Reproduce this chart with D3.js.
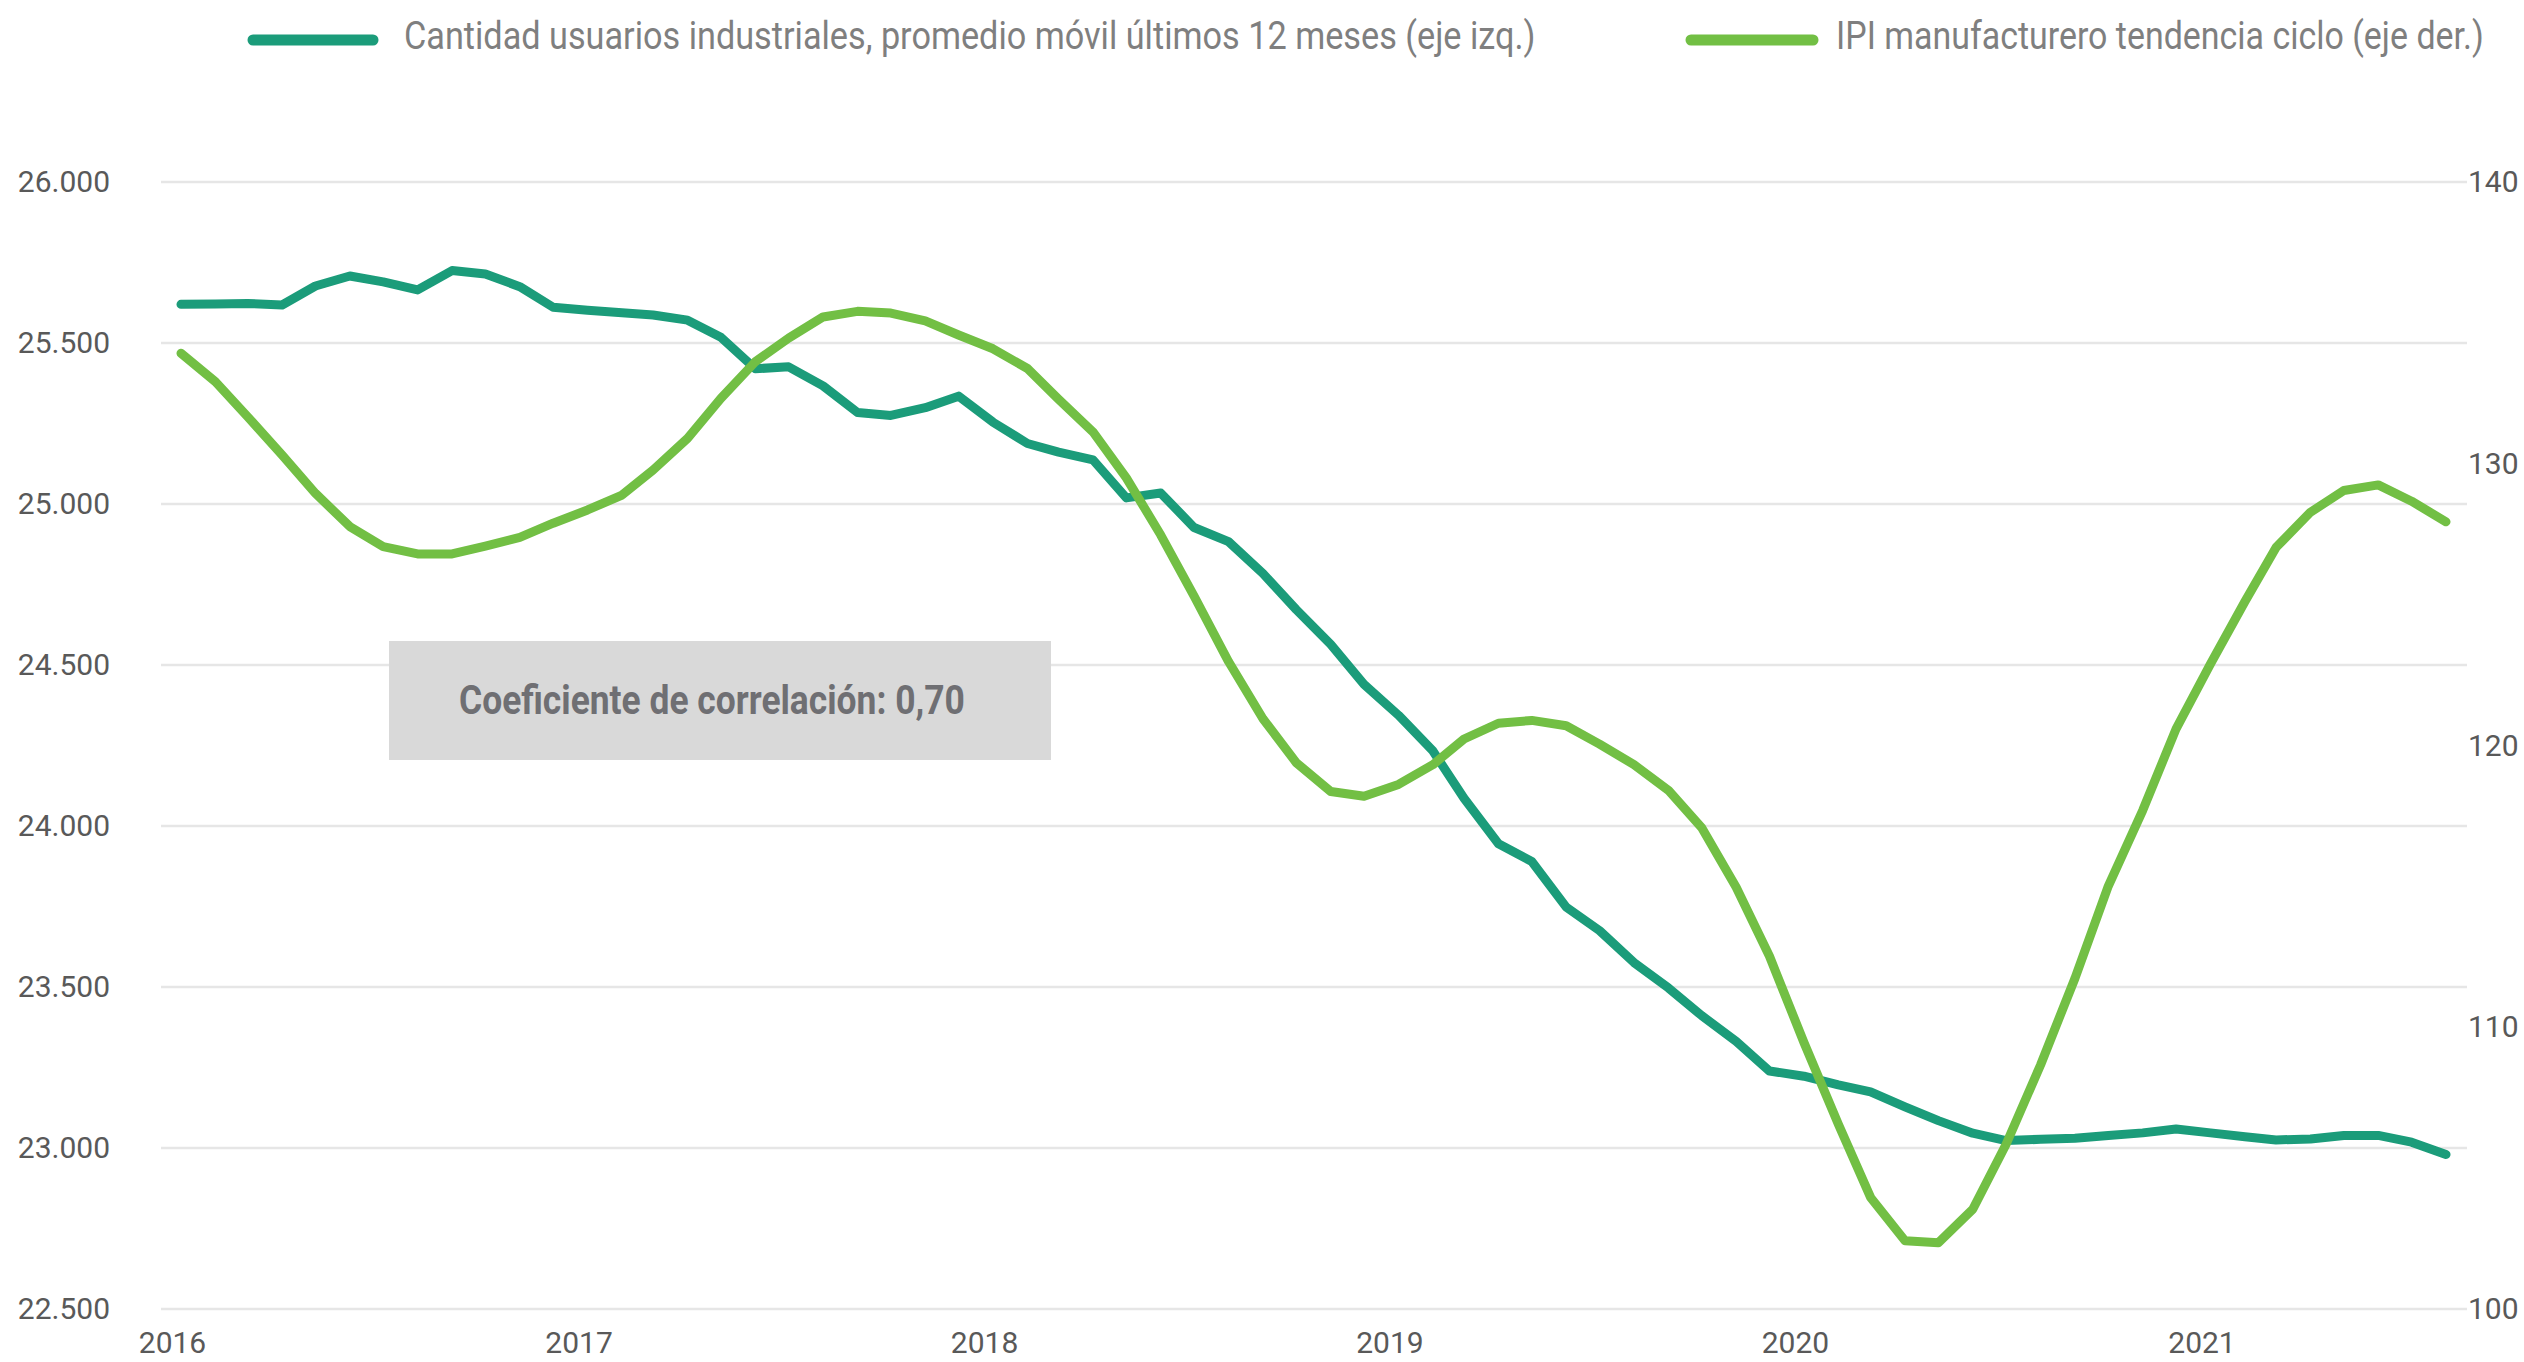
<!DOCTYPE html>
<html>
<head>
<meta charset="utf-8">
<script src="https://cdn.jsdelivr.net/npm/d3@7"></script>
<style>
  body { margin: 0; background: #fff; }
  svg text { font-family: Roboto, "Noto Sans", sans-serif; }
</style>
</head>
<body>
<svg id="chart" width="2524" height="1362"></svg>
<script>
// Data: monthly, Jan 2016 - Aug 2021
let months = d3.timeMonth.range(new Date(2016, 0, 1), new Date(2021, 8, 1));

// Cantidad usuarios industriales (promedio movil 12 meses) - left axis
let usuarios = [
  25620, 25621, 25623, 25618, 25677, 25708, 25690, 25665, 25725, 25714, 25675, 25611,
  25602, 25594, 25587, 25571, 25518, 25420, 25426, 25367, 25284, 25275, 25299, 25335,
  25254, 25188, 25161, 25137, 25019, 25034, 24927, 24883, 24784, 24672, 24564, 24440,
  24344, 24233, 24086, 23945, 23890, 23748, 23675, 23576, 23497, 23411, 23331, 23239,
  23223, 23196, 23174, 23128, 23085, 23046, 23023, 23027, 23030, 23039, 23047, 23059,
  23047, 23035, 23025, 23028, 23039, 23039, 23018, 22980
];

// IPI manufacturero tendencia ciclo - right axis
let ipi = [
  133.92, 132.91, 131.67, 130.31, 128.95, 127.77, 127.06, 126.80, 126.80, 127.08, 127.39, 127.89,
  128.36, 128.89, 129.78, 130.90, 132.32, 133.62, 134.46, 135.21, 135.41, 135.35, 135.07, 134.57,
  134.08, 133.38, 132.29, 131.13, 129.50, 127.47, 125.30, 122.98, 120.95, 119.39, 118.37, 118.20,
  118.62, 119.32, 120.23, 120.79, 120.89, 120.70, 120.05, 119.32, 118.41, 117.08, 114.97, 112.52,
  109.46, 106.56, 103.96, 102.42, 102.35, 103.54, 105.85, 108.66, 111.74, 115.01, 117.70, 120.59,
  122.90, 125.11, 127.03, 128.28, 129.05, 129.25, 128.67, 127.94
];

let leftTicks = [22500, 23000, 23500, 24000, 24500, 25000, 25500, 26000];
let rightTicks = [100, 110, 120, 130, 140];
let yearTicks = [2016, 2017, 2018, 2019, 2020, 2021];

let seriesNames = [
  "Cantidad usuarios industriales, promedio móvil últimos 12 meses (eje izq.)",
  "IPI manufacturero tendencia ciclo (eje der.)"
];
let seriesColors = ["#1b9c7a", "#72bf44"];
let corrLabel = "Coeficiente de correlación: 0,70";

// Scales
let svg = d3.select("#chart");
let gridLeft = 161, gridRight = 2467;
let yTop = 182, yBottom = 1309;

let x = d3.scaleTime()
  .domain([months[0], months[months.length - 1]])
  .range([181, 2446]);

let yLeft = d3.scaleLinear().domain([22500, 26000]).range([yBottom, yTop]);
let yRight = d3.scaleLinear().domain([100, 140]).range([yBottom, yTop]);

let esLocale = d3.formatLocale({ decimal: ",", thousands: ".", grouping: [3], currency: ["", ""] });
let fmt = esLocale.format(",");

// squeeze a text horizontally so it takes a given width (condensed look)
function condense(sel, x0, y0, width) {
  let len = sel.node().getComputedTextLength();
  sel.attr("x", 0).attr("y", 0)
    .attr("transform", `translate(${x0},${y0}) scale(${width / len},1)`);
}

// Gridlines
svg.append("g")
  .selectAll("line")
  .data(leftTicks)
  .join("line")
  .attr("x1", gridLeft)
  .attr("x2", gridRight)
  .attr("y1", d => yLeft(d))
  .attr("y2", d => yLeft(d))
  .attr("stroke", "#e6e6e6")
  .attr("stroke-width", 2.5);

// Left axis
let leftAxis = svg.append("g")
  .attr("transform", `translate(${gridLeft},0)`)
  .call(d3.axisLeft(yLeft).tickValues(leftTicks).tickFormat(fmt).tickSize(0).tickPadding(51));
leftAxis.select(".domain").remove();
leftAxis.selectAll("text")
  .attr("font-size", 30)
  .attr("fill", "#595959")
  .style("font-family", "Roboto");

// Right axis
let rightAxis = svg.append("g")
  .attr("transform", `translate(${gridRight},0)`)
  .call(d3.axisRight(yRight).tickValues(rightTicks).tickSize(0).tickPadding(1));
rightAxis.select(".domain").remove();
rightAxis.selectAll("text")
  .attr("font-size", 30)
  .attr("fill", "#595959")
  .style("font-family", "Roboto");

// Bottom axis (years)
let bottomAxis = svg.append("g")
  .attr("transform", `translate(0,${yBottom})`)
  .call(d3.axisBottom(x)
    .tickValues(yearTicks.map(yr => new Date(yr, 0, 1)))
    .tickFormat(d3.timeFormat("%Y"))
    .tickSize(0)
    .tickPadding(23));
bottomAxis.select(".domain").remove();
bottomAxis.selectAll("text")
  .attr("font-size", 30)
  .attr("fill", "#595959")
  .attr("dx", -9)
  .style("font-family", "Roboto");

// Correlation box
svg.append("rect")
  .attr("x", 389)
  .attr("y", 641)
  .attr("width", 662)
  .attr("height", 119)
  .attr("fill", "#d9d9d9");

let corrText = svg.append("text")
  .attr("font-size", 41)
  .attr("font-weight", "bold")
  .attr("fill", "#6f6f73")
  .text(corrLabel);
condense(corrText, 459, 714, 506);

// Lines
let lineLeft = d3.line()
  .x((d, i) => x(months[i]))
  .y(d => yLeft(d));

let lineRight = d3.line()
  .x((d, i) => x(months[i]))
  .y(d => yRight(d));

svg.append("path")
  .datum(usuarios)
  .attr("d", lineLeft)
  .attr("fill", "none")
  .attr("stroke", seriesColors[0])
  .attr("stroke-width", 9)
  .attr("stroke-linecap", "round")
  .attr("stroke-linejoin", "round");

svg.append("path")
  .datum(ipi)
  .attr("d", lineRight)
  .attr("fill", "none")
  .attr("stroke", seriesColors[1])
  .attr("stroke-width", 9)
  .attr("stroke-linecap", "round")
  .attr("stroke-linejoin", "round");

// Legend
let legendItems = [
  { name: seriesNames[0], color: seriesColors[0], x1: 253, x2: 373, tx: 404, tw: 1132 },
  { name: seriesNames[1], color: seriesColors[1], x1: 1691, x2: 1813, tx: 1836, tw: 648 }
];

let legend = svg.append("g").attr("class", "legend");
legendItems.forEach(function(item) {
  legend.append("line")
    .attr("x1", item.x1)
    .attr("x2", item.x2)
    .attr("y1", 40)
    .attr("y2", 40)
    .attr("stroke", item.color)
    .attr("stroke-width", 11)
    .attr("stroke-linecap", "round");
  let t = legend.append("text")
    .attr("font-size", 38)
    .attr("fill", "#7f7f7f")
    .text(item.name);
  condense(t, item.tx, 49, item.tw);
});
</script>
</body>
</html>
